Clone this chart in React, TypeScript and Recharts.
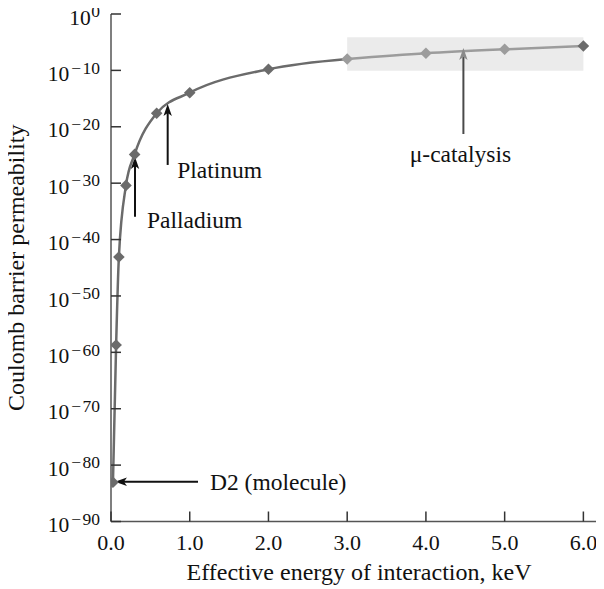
import React from 'react';
import { LineChart, Line, XAxis, YAxis, ReferenceArea, ReferenceLine } from 'recharts';

// Effective energy (keV) and Coulomb barrier permeability
const energyMain = [0.025, 0.065, 0.1, 0.19, 0.3, 0.58, 1.0, 2.0, 3.0];
const permeabilityMain = [8.9e-84, 2.0e-59, 7.9e-44, 4.0e-31, 1.26e-25, 2.5e-18, 1.1e-14, 1.6e-10, 1.05e-8];
const energyMu = [3.0, 4.0, 5.0, 6.0];
const permeabilityMu = [1.05e-8, 1.07e-7, 5.5e-7, 2.1e-6];

const xTicks = [0, 1, 2, 3, 4, 5, 6];
const yTickExponents = [-90, -80, -70, -60, -50, -40, -30, -20, -10, 0];
const yTicks = yTickExponents.map((e) => Math.pow(10, e));

const muRegion = { x1: 3.0, x2: 6.0, y1: 9e-11, y2: 7.4e-5 };

const annotations = [
  { label: 'D2 (molecule)', from: { x: 1.105, y: 1.15e-83 }, to: { x: 0.05, y: 1.15e-83 }, dx: 12, dy: 8.5, anchor: 'start', line: '#111', head: '#111' },
  { label: 'Palladium', from: { x: 0.305, y: 1.1e-36 }, to: { x: 0.305, y: 4.4e-26 }, dx: 12, dy: 11.6, anchor: 'start', line: '#111', head: '#111' },
  { label: 'Platinum', from: { x: 0.72, y: 1.7e-27 }, to: { x: 0.72, y: 1.1e-16 }, dx: 9.5, dy: 13, anchor: 'start', line: '#111', head: '#111' },
  { label: 'μ-catalysis', from: { x: 4.476, y: 5.2e-22 }, to: { x: 4.476, y: 9.3e-7 }, dx: -3, dy: 28, anchor: 'middle', line: '#4a4a4a', head: '#8a8a8a' },
];

const mainData = energyMain.map((e, i) => ({ e, p: permeabilityMain[i] }));
const muData = energyMu.map((e, i) => ({ e, p: permeabilityMu[i] }));

const SERIF = '"Liberation Serif", "Times New Roman", Times, serif';
const DARK = '#6b6b6b';
const LIGHT = '#9c9c9c';

const Diamond = ({ cx, cy, color }: any) => (
  <polygon
    points={`${cx},${cy - 5.8} ${cx + 5.8},${cy} ${cx},${cy + 5.8} ${cx - 5.8},${cy}`}
    fill={color}
  />
);

const mainDot = (props: any) => {
  if (props.index === mainData.length - 1) return <g key={`m${props.index}`} />;
  return <Diamond key={`m${props.index}`} cx={props.cx} cy={props.cy} color={DARK} />;
};
const muDot = (props: any) => (
  <Diamond
    key={`u${props.index}`}
    cx={props.cx}
    cy={props.cy}
    color={props.index === muData.length - 1 ? DARK : LIGHT}
  />
);

const LeftTick = (props: any) => {
  const { x, y, payload } = props;
  const e = Math.round(Math.log10(payload.value));
  return (
    <g>
      <line x1={x} x2={x + 10} y1={y} y2={y} stroke="#333" strokeWidth={1.5} />
      <text x={x - 11} y={y + 10.7} textAnchor="end" fontFamily={SERIF} fill="#111">
        <tspan fontSize={21.5}>10</tspan>
        {e === 0 ? (
          <tspan fontSize={17.5} dy={-7.5} dx={0.5}>0</tspan>
        ) : (
          <>
            <tspan fontSize={17.5} dy={-7.5} dx={2}>{'\u2212'}</tspan>
            <tspan fontSize={17.5} dx={1.5}>{Math.abs(e)}</tspan>
          </>
        )}
      </text>
    </g>
  );
};
const RightTick = (props: any) => {
  const { x, y } = props;
  return <line x1={x - 10} x2={x} y1={y} y2={y} stroke="#333" strokeWidth={1.5} />;
};
const BottomTick = (props: any) => {
  const { x, y, payload } = props;
  return (
    <g>
      <line x1={x} x2={x} y1={y - 10} y2={y} stroke="#333" strokeWidth={1.5} />
      <text x={x} y={y + 28.5} textAnchor="middle" fontFamily={SERIF} fontSize={22} fill="#111">
        {Number(payload.value).toFixed(1)}
      </text>
    </g>
  );
};
const TopTick = (props: any) => {
  const { x, y } = props;
  return <line x1={x} x2={x} y1={y} y2={y + 10} stroke="#333" strokeWidth={1.5} />;
};

const makeArrow = (a: any) => (props: any) => {
  const { x1, y1, x2, y2 } = props;
  const dx = x2 - x1;
  const dy = y2 - y1;
  const len = Math.hypot(dx, dy) || 1;
  const ux = dx / len;
  const uy = dy / len;
  const hl = 12;
  const hw = 4.2;
  const bx = x2 - ux * hl;
  const by = y2 - uy * hl;
  const nx = bx + ux * 3;
  const ny = by + uy * 3;
  const px = -uy * hw;
  const py = ux * hw;
  return (
    <g>
      <line x1={x1} y1={y1} x2={nx} y2={ny} stroke={a.line} strokeWidth={2} />
      <polygon
        points={`${x2},${y2} ${bx + px},${by + py} ${nx},${ny} ${bx - px},${by - py}`}
        fill={a.head}
      />
      <text
        x={x1 + a.dx}
        y={y1 + a.dy}
        textAnchor={a.anchor}
        fontFamily={SERIF}
        fontSize={23.5}
        fill="#111"
      >
        {a.label}
      </text>
    </g>
  );
};

const XTitle = (props: any) => {
  const vb = props.viewBox || {};
  return (
    <text
      x={vb.x + vb.width / 2}
      y={vb.y + 58.5}
      textAnchor="middle"
      fontFamily={SERIF}
      fontSize={24}
      fill="#111"
    >
      Effective energy of interaction, keV
    </text>
  );
};
const YTitle = (props: any) => {
  const vb = props.viewBox || {};
  const cy = vb.y + vb.height / 2;
  const bx = 23.5;
  return (
    <text
      x={bx}
      y={cy}
      transform={`rotate(-90 ${bx} ${cy})`}
      textAnchor="middle"
      fontFamily={SERIF}
      fontSize={24}
      fill="#111"
    >
      Coulomb barrier permeability
    </text>
  );
};

export default function App() {
  return (
    <div style={{ width: 604, height: 589, overflow: 'hidden', margin: '-8px 0 0 -8px' }}>
      <LineChart
        width={618}
        height={589}
        margin={{ top: 14, right: 11, bottom: 0, left: 8 }}
        style={{ fontFamily: SERIF }}
      >
        <XAxis
          xAxisId="bottom"
          dataKey="e"
          type="number"
          domain={[0, 6.3]}
          ticks={xTicks}
          allowDataOverflow
          orientation="bottom"
          height={67.5}
          tickSize={0}
          tickMargin={0}
          tickLine={false}
          tick={<BottomTick />}
          axisLine={{ stroke: '#555', strokeWidth: 1.5 }}
          label={{ content: <XTitle /> }}
        />
        <XAxis
          xAxisId="top"
          dataKey="e"
          type="number"
          domain={[0, 6.3]}
          ticks={xTicks}
          allowDataOverflow
          orientation="top"
          height={0}
          tickSize={0}
          tickMargin={0}
          tickLine={false}
          tick={<TopTick />}
          axisLine={{ stroke: '#555', strokeWidth: 1.5 }}
        />
        <YAxis
          yAxisId="left"
          type="number"
          scale="log"
          domain={[1e-90, 1]}
          ticks={yTicks}
          allowDataOverflow
          orientation="left"
          width={103}
          tickSize={0}
          tickMargin={0}
          tickLine={false}
          tick={<LeftTick />}
          axisLine={{ stroke: '#555', strokeWidth: 1.5 }}
          label={{ content: <YTitle /> }}
        />
        <YAxis
          yAxisId="right"
          type="number"
          scale="log"
          domain={[1e-90, 1]}
          ticks={yTicks}
          allowDataOverflow
          orientation="right"
          width={0}
          tickSize={0}
          tickMargin={0}
          tickLine={false}
          tick={<RightTick />}
          axisLine={{ stroke: '#555', strokeWidth: 1.5 }}
        />
        <ReferenceArea
          xAxisId="bottom"
          yAxisId="left"
          x1={muRegion.x1}
          x2={muRegion.x2}
          y1={muRegion.y1}
          y2={muRegion.y2}
          fill="#ebebeb"
          fillOpacity={1}
          stroke="none"
          ifOverflow="visible"
        />
        <Line
          xAxisId="bottom"
          yAxisId="left"
          data={mainData}
          dataKey="p"
          type="monotone"
          stroke={DARK}
          strokeWidth={2.5}
          dot={mainDot}
          activeDot={false}
          isAnimationActive={false}
        />
        <Line
          xAxisId="bottom"
          yAxisId="left"
          data={muData}
          dataKey="p"
          type="monotone"
          stroke={LIGHT}
          strokeWidth={2.5}
          dot={muDot}
          activeDot={false}
          isAnimationActive={false}
        />
        {annotations.map((a) => (
          <ReferenceLine
            key={a.label}
            xAxisId="bottom"
            yAxisId="left"
            segment={[a.from, a.to]}
            ifOverflow="visible"
            shape={makeArrow(a)}
          />
        ))}
      </LineChart>
    </div>
  );
}
